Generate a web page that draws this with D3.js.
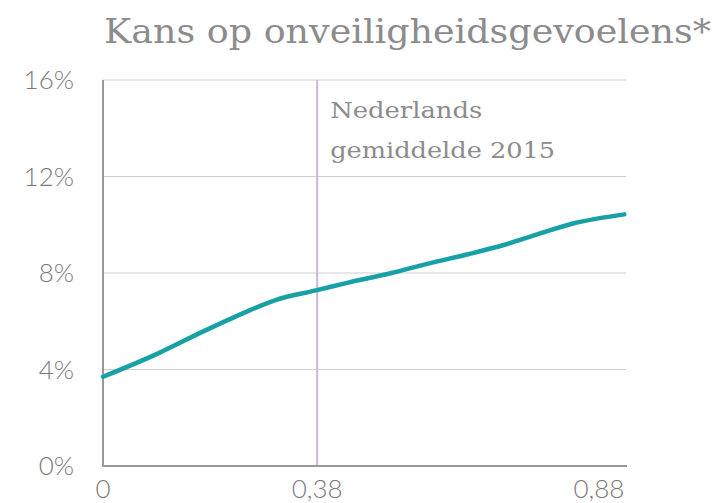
<!DOCTYPE html>
<html><head><meta charset="utf-8">
<script src="https://cdn.jsdelivr.net/npm/d3@7"></script>
<style>body{margin:0;background:#fff}svg{display:block}</style>
</head><body>
<svg id="c" width="720" height="503"></svg>
<script>
const xValues = [0, 0.098, 0.178, 0.251, 0.306, 0.38, 0.435, 0.503, 0.588, 0.65, 0.711, 0.772, 0.834, 0.925];
const yValues = [3.7, 4.67, 5.58, 6.36, 6.88, 7.29, 7.6, 7.95, 8.45, 8.79, 9.16, 9.61, 10.05, 10.43];
const yTicks = [0, 4, 8, 12, 16];
const xTicks = [0, 0.38, 0.88];
const refValue = 0.38;
const title = "Kans op onveiligheidsgevoelens*";
const refLabel = ["Nederlands", "gemiddelde 2015"];

const svg = d3.select("#c");
const L = 103, R = 626, T = 80, B = 466;
const x = d3.scaleLinear().domain([0, 0.928]).range([L, R]);
const y = d3.scaleLinear().domain([0, 16]).range([B, T]);

svg.append("text").attr("x", 104).attr("y", 43).attr("font-family", "DejaVu Serif")
  .attr("font-size", 33).attr("fill", "#8c8c8c").attr("textLength", 607).attr("lengthAdjust", "spacingAndGlyphs")
  .text(title);

// grid
svg.append("g").selectAll("line").data(yTicks.filter(d => d > 0)).join("line")
  .attr("x1", L).attr("x2", R).attr("y1", d => y(d)).attr("y2", d => y(d))
  .attr("stroke", "#cfcfcf").attr("stroke-width", 1.2);

// y labels
svg.append("g").selectAll("text").data(yTicks).join("text")
  .attr("x", 74).attr("y", d => y(d) + 9).attr("text-anchor", "end")
  .attr("font-family", "Lato").attr("font-weight", 300).attr("font-size", 26).attr("fill", "#7a7a7a")
  .text(d => d + "%");

// reference line
svg.append("line").attr("x1", x(refValue)).attr("x2", x(refValue)).attr("y1", T).attr("y2", B)
  .attr("stroke", "#cbb6de").attr("stroke-width", 2);
svg.append("g").selectAll("text").data(refLabel).join("text")
  .attr("x", x(refValue) + 13).attr("y", (d, i) => 118 + i * 40)
  .attr("font-family", "DejaVu Serif").attr("font-size", 23).attr("fill", "#8c8c8c")
  .attr("textLength", (d, i) => i === 0 ? 152 : 225).attr("lengthAdjust", "spacingAndGlyphs")
  .text(d => d);

// axes
svg.append("line").attr("x1", L).attr("x2", L).attr("y1", T).attr("y2", B + 1).attr("stroke", "#999").attr("stroke-width", 2);
svg.append("line").attr("x1", L - 1).attr("x2", R + 1).attr("y1", B).attr("y2", B).attr("stroke", "#999").attr("stroke-width", 2);

// x labels
svg.append("g").selectAll("text").data(xTicks).join("text")
  .attr("x", d => x(d)).attr("y", 498).attr("text-anchor", "middle")
  .attr("font-family", "Lato").attr("font-weight", 300).attr("font-size", 26).attr("fill", "#7a7a7a")
  .text(d => d === 0 ? "0" : String(d).replace(".", ","));

// curve
const pts = xValues.map((v, i) => [v, yValues[i]]);
svg.append("path").datum(pts)
  .attr("d", d3.line().x(d => x(d[0])).y(d => y(d[1])).curve(d3.curveMonotoneX))
  .attr("fill", "none").attr("stroke", "#17a0a6").attr("stroke-width", 4.5).attr("stroke-linecap", "round");
</script>
</body></html>
